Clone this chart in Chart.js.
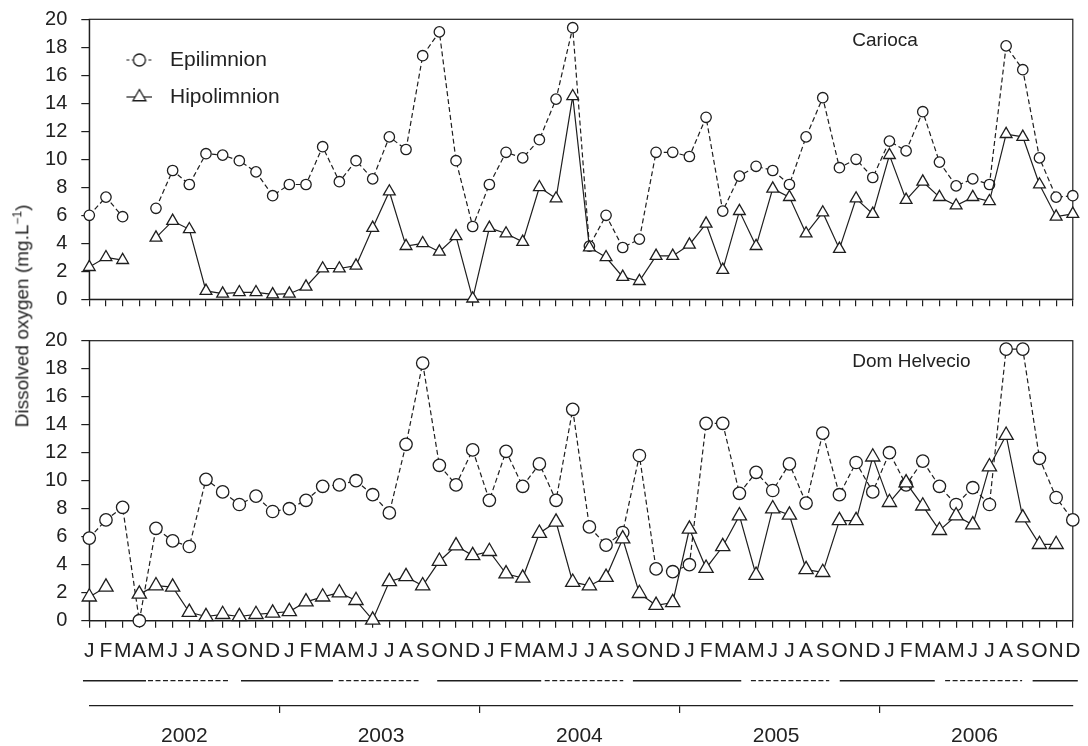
<!DOCTYPE html>
<html>
<head>
<meta charset="utf-8">
<script src="https://cdn.jsdelivr.net/npm/chart.js@4.4.1/dist/chart.umd.min.js"></script>
<style>
  html, body { margin: 0; padding: 0; background: #fff; overflow: hidden; }
  #wrap { position: relative; width: 1088px; height: 746px; overflow: hidden; }
  #wrap canvas { position: absolute; left: 0; }
  #ytitle {
    position: absolute; left: 22px; top: 316px;
    transform: translate(-50%, -50%) rotate(-90deg);
    white-space: nowrap; color: #222;
    font: 19px 'Liberation Sans', Arial, sans-serif;
  }
  #ytitle sup { font-size: 12px; }
</style>
</head>
<body>
<div id="wrap">
  <canvas id="carioca" width="1088" height="320" style="top:0"></canvas>
  <canvas id="domhelvecio" width="1088" height="350" style="top:320px"></canvas>
  <canvas id="seasons" width="1088" height="120" style="top:640px"></canvas>
  <div id="ytitle">Dissolved oxygen (mg.L<sup>−1</sup>)</div>
</div>
<script>
const months = ['J', 'F', 'M', 'A', 'M', 'J', 'J', 'A', 'S', 'O', 'N', 'D'];
const years = ['2002', '2003', '2004', '2005', '2006'];

// Carioca, Jan 2002 - Dec 2006 (mg/L)
const cariocaEpi = [6.0, 7.3, 5.9, null, 6.5, 9.2, 8.2, 10.4, 10.3, 9.9, 9.1, 7.4,
  8.2, 8.2, 10.9, 8.4, 9.9, 8.6, 11.6, 10.7, 17.4, 19.1, 9.9, 5.2,
  8.2, 10.5, 10.1, 11.4, 14.3, 19.4, 3.8, 6.0, 3.7, 4.3, 10.5, 10.5,
  10.2, 13.0, 6.3, 8.8, 9.5, 9.2, 8.2, 11.6, 14.4, 9.4, 10.0, 8.7,
  11.3, 10.6, 13.4, 9.8, 8.1, 8.6, 8.2, 18.1, 16.4, 10.1, 7.3, 7.4];
const cariocaHipo = [2.3, 3.0, 2.8, null, 4.4, 5.6, 5.0, 0.6, 0.4, 0.5, 0.5, 0.35,
  0.4, 0.9, 2.2, 2.2, 2.4, 5.1, 7.7, 3.8, 4.0, 3.4, 4.5, 0.05,
  5.1, 4.7, 4.1, 8.0, 7.2, 14.5, 3.7, 3.0, 1.6, 1.3, 3.1, 3.1,
  3.9, 5.4, 2.1, 6.3, 3.8, 7.9, 7.3, 4.7, 6.2, 3.6, 7.2, 6.1,
  10.3, 7.1, 8.4, 7.3, 6.7, 7.3, 7.0, 11.8, 11.6, 8.2, 5.9, 6.1];

// Dom Helvecio
const domEpi = [5.9, 7.2, 8.1, 0.0, 6.6, 5.7, 5.3, 10.1, 9.2, 8.3, 8.9, 7.8,
  8.0, 8.6, 9.6, 9.7, 10.0, 9.0, 7.7, 12.6, 18.4, 11.1, 9.7, 12.2,
  8.6, 12.1, 9.6, 11.2, 8.6, 15.1, 6.7, 5.4, 6.3, 11.8, 3.7, 3.5,
  4.0, 14.1, 14.1, 9.1, 10.6, 9.3, 11.2, 8.4, 13.4, 9.0, 11.3, 9.2,
  12.0, 9.7, 11.4, 9.6, 8.3, 9.5, 8.3, 19.4, 19.4, 11.6, 8.8, 7.2];
const domHipo = [1.7, 2.4, null, 1.9, 2.5, 2.4, 0.6, 0.3, 0.45, 0.3, 0.45, 0.55,
  0.65, 1.35, 1.7, 2.0, 1.45, 0.05, 2.8, 3.15, 2.5, 4.25, 5.35, 4.65,
  4.95, 3.35, 3.05, 6.25, 7.05, 2.75, 2.5, 3.1, 5.85, 1.95, 1.1, 1.3,
  6.55, 3.75, 5.3, 7.5, 3.25, 8.0, 7.55, 3.65, 3.45, 7.15, 7.15, 11.7,
  8.45, 9.85, 8.2, 6.45, 7.5, 6.85, 11.0, 13.25, 7.35, 5.45, 5.45, null];

// seasons under the month axis, in month index units (0 = Jan 2002)
const seasonKind = ['rainy', 'dry', 'rainy', 'dry', 'rainy', 'dry', 'rainy', 'dry', 'rainy', 'dry', 'rainy'];
const seasonStart = [-0.38, 3.52, 9.1, 14.96, 20.87, 27.32, 32.61, 39.69, 45.02, 51.34, 56.59];
const seasonEnd = [3.4, 8.44, 14.62, 19.75, 27.11, 32.03, 39.11, 44.39, 50.72, 55.96, 59.3];

// year axis: boundary ticks and label centres, in month index units
const yearTickPos = [11.4, 23.4, 35.4, 47.4];
const yearLabelPos = [5.7, 17.5, 29.4, 41.2, 53.1];

const monthLabels = years.flatMap(() => months);

const INK = '#1e1e1e';
const FONT = "'Liberation Sans', Arial, sans-serif";
Chart.defaults.font.family = FONT;
Chart.defaults.color = '#222';

const AXIS_W = 89.3;
const RIGHT_PAD = 15.2;

function legendIcon(kind) {
  const c = document.createElement('canvas');
  c.width = 40;
  c.height = 18;
  const g = c.getContext('2d');
  g.strokeStyle = INK;
  g.lineWidth = 1.2;
  g.setLineDash(kind === 'circle' ? [3, 2.5] : []);
  g.beginPath();
  g.moveTo(14, 9);
  g.lineTo(40, 9);
  g.stroke();
  g.setLineDash([]);
  g.fillStyle = '#fff';
  g.lineWidth = 1.3;
  g.beginPath();
  if (kind === 'circle') {
    g.arc(27, 9, 6, 0, Math.PI * 2);
  } else {
    const r = 7.5;
    g.moveTo(27, 9 - r);
    g.lineTo(27 + r * 0.866, 9 + r / 2);
    g.lineTo(27 - r * 0.866, 9 + r / 2);
    g.closePath();
  }
  g.fill();
  g.stroke();
  return c;
}
const legendIcons = [legendIcon('circle'), legendIcon('triangle')];

const framePlugin = {
  id: 'frame',
  beforeDatasetsDraw(chart) {
    const { ctx, chartArea: a } = chart;
    ctx.save();
    ctx.strokeStyle = INK;
    ctx.lineWidth = 1.2;
    ctx.strokeRect(a.left, a.top, a.right - a.left, a.bottom - a.top);
    ctx.restore();
  }
};

const panelLabelPlugin = {
  id: 'panelLabel',
  afterDraw(chart, args, opts) {
    const { ctx, chartArea: a } = chart;
    ctx.save();
    ctx.font = '19px ' + FONT;
    ctx.fillStyle = '#222';
    ctx.textBaseline = 'middle';
    ctx.fillText(opts.text, a.left + opts.dx, a.top + opts.dy);
    ctx.restore();
  }
};

// keep tick-label overhang from shrinking the plot box
function noOverhang(s) {
  s.paddingTop = 0;
  s.paddingBottom = 0;
  s.paddingLeft = 0;
  s.paddingRight = 0;
}

function panelChart(id, name, epi, hipo, o) {
  return new Chart(document.getElementById(id), {
    type: 'line',
    data: {
      labels: monthLabels,
      datasets: [{
        label: 'Epilimnion',
        data: epi,
        borderColor: INK,
        borderWidth: 1.2,
        borderDash: [5, 3],
        pointStyle: 'circle',
        pointRadius: o.circleR,
        pointBackgroundColor: '#fff',
        pointBorderColor: INK,
        pointBorderWidth: 1.3,
        spanGaps: false,
        clip: false,
        order: 1
      }, {
        label: 'Hipolimnion',
        data: hipo,
        borderColor: INK,
        borderWidth: 1.2,
        pointStyle: 'triangle',
        pointRadius: o.triR,
        pointBackgroundColor: '#fff',
        pointBorderColor: INK,
        pointBorderWidth: 1.3,
        spanGaps: false,
        clip: false,
        order: 0
      }]
    },
    options: {
      responsive: false,
      animation: false,
      events: [],
      layout: { padding: { top: o.padTop, right: RIGHT_PAD, bottom: 0, left: 0 } },
      scales: {
        x: {
          type: 'category',
          offset: false,
          grid: { drawOnChartArea: false, tickLength: 7, color: INK, lineWidth: 1.2 },
          border: { color: INK, width: 1.2 },
          ticks: {
            display: o.showMonths,
            autoSkip: false,
            maxRotation: 0,
            minRotation: 0,
            padding: 10.8,
            font: { size: 21 },
            color: '#222'
          },
          afterFit(s) { s.height = o.xHeight; noOverhang(s); }
        },
        y: {
          min: 0,
          max: 20,
          ticks: {
            stepSize: 2,
            autoSkip: false,
            maxTicksLimit: 20,
            padding: 14,
            font: { size: 20, lineHeight: 1 },
            color: '#222'
          },
          grid: { drawOnChartArea: false, tickLength: 8, color: INK, lineWidth: 1.2 },
          border: { color: INK, width: 1.2 },
          afterFit(s) { s.width = AXIS_W; noOverhang(s); }
        }
      },
      plugins: {
        tooltip: { enabled: false },
        panelLabel: { text: name, dx: 763, dy: 21.5 },
        legend: {
          display: o.showLegend,
          position: 'chartArea',
          align: 'start',
          title: { display: true, text: ' ', font: { size: 10, lineHeight: 1 }, padding: { top: 23.5, bottom: 0 } },
          labels: {
            usePointStyle: true,
            pointStyleWidth: 54.2,
            padding: 16,
            font: { size: 21 },
            color: '#222',
            generateLabels(chart) {
              const items = Chart.defaults.plugins.legend.labels.generateLabels(chart);
              items.forEach(it => { it.pointStyle = legendIcons[it.datasetIndex]; });
              return items;
            },
            sort: (a, b) => a.datasetIndex - b.datasetIndex
          }
        }
      }
    },
    plugins: [framePlugin, panelLabelPlugin]
  });
}

panelChart('carioca', 'Carioca', cariocaEpi, cariocaHipo, {
  padTop: 19.3, xHeight: 20.7, showMonths: false, showLegend: true, circleR: 5.2, triR: 6.8
});
panelChart('domhelvecio', 'Dom Helvecio', domEpi, domHipo, {
  padTop: 20.7, xHeight: 49.3, showMonths: true, showLegend: false, circleR: 6.2, triR: 8.2
});

// season strip + year axis
new Chart(document.getElementById('seasons'), {
  type: 'line',
  data: {
    datasets: seasonStart.map((s, i) => ({
      data: [{ x: s, y: 0 }, { x: seasonEnd[i], y: 0 }],
      borderColor: INK,
      borderWidth: seasonKind[i] === 'rainy' ? 1.5 : 1.3,
      borderDash: seasonKind[i] === 'rainy' ? [] : [5, 2.5],
      pointRadius: 0,
      clip: false
    }))
  },
  options: {
    responsive: false,
    animation: false,
    events: [],
    layout: { padding: { top: 15.4, right: RIGHT_PAD, bottom: 7, left: AXIS_W } },
    scales: {
      x: {
        type: 'linear',
        position: 'bottom',
        min: 0,
        max: 59,
        weight: 0,
        afterBuildTicks(s) { s.ticks = yearTickPos.map(v => ({ value: v })); },
        ticks: { display: false },
        grid: { drawOnChartArea: false, tickLength: 7, color: INK, lineWidth: 1.2 },
        border: { color: INK, width: 1.2 },
        afterFit(s) { s.height = 7; noOverhang(s); }
      },
      years: {
        type: 'linear',
        position: 'bottom',
        min: 0,
        max: 59,
        weight: 1,
        afterBuildTicks(s) { s.ticks = yearLabelPos.map(v => ({ value: v })); },
        ticks: {
          autoSkip: false,
          maxRotation: 0,
          padding: 11,
          font: { size: 21 },
          color: '#222',
          callback: (v, i) => years[i]
        },
        grid: { display: false, drawTicks: false },
        border: { display: false },
        afterFit(s) { s.height = 40; noOverhang(s); }
      },
      y: { display: false, min: -1, max: 1 }
    },
    plugins: { legend: { display: false }, tooltip: { enabled: false } }
  }
});
</script>
</body>
</html>
